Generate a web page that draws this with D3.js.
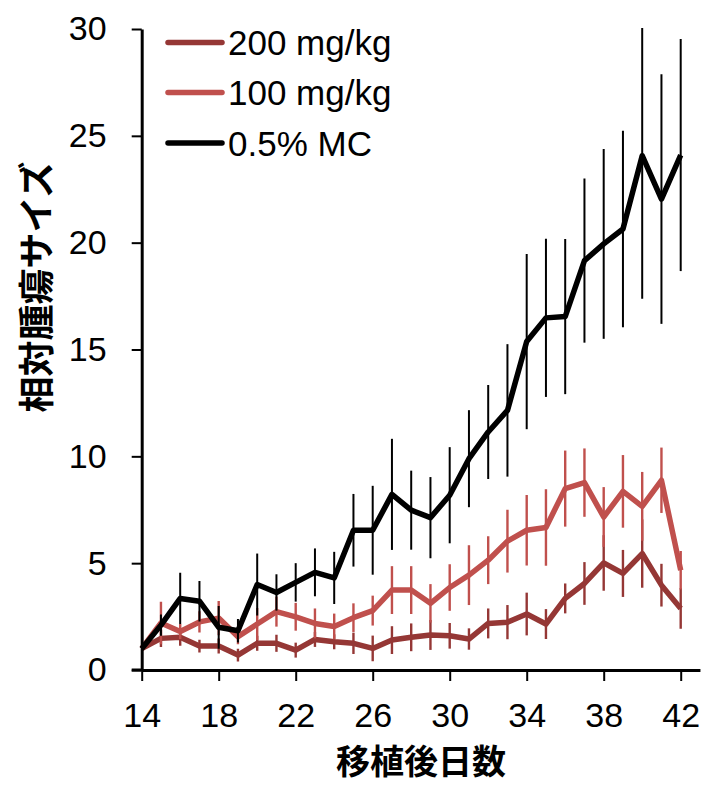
<!DOCTYPE html>
<html>
<head>
<meta charset="utf-8">
<script src="https://cdn.jsdelivr.net/npm/d3@7"></script>
<style>
  html, body { margin: 0; padding: 0; background: #fff; }
  svg { display: block; }
</style>
</head>
<body>
<svg id="chart" width="704" height="785"></svg>
<script>
// Days after transplantation
const days = [14,15,16,17,18,19,20,21,22,23,24,25,26,27,28,29,30,31,32,33,34,35,36,37,38,39,40,41,42];

// Relative tumour size (mean) and error for each group
const mg200 = [1.0,1.48,1.53,1.12,1.12,0.7,1.25,1.25,0.93,1.43,1.32,1.25,1.01,1.4,1.53,1.64,1.6,1.45,2.18,2.24,2.62,2.15,3.35,4.05,5.01,4.52,5.45,3.97,2.88];
const mg200Err = [0,0.4,0.4,0.3,0.35,0.3,0.35,0.4,0.35,0.35,0.35,0.5,0.6,0.65,0.65,0.7,0.6,0.5,0.7,0.8,1.0,0.7,0.7,1.0,1.3,1.1,1.6,1.0,0.95];

const mg100 = [1.0,2.2,1.8,2.25,2.43,1.56,2.15,2.73,2.49,2.18,2.04,2.45,2.78,3.74,3.74,3.12,3.86,4.44,5.14,6.03,6.54,6.67,8.49,8.77,7.16,8.36,7.66,8.88,4.67];
const mg100Err = [0,1.0,0.35,0.5,0.8,0.35,0.75,0.7,0.65,0.7,0.6,0.67,0.7,1.12,1.12,0.9,1.09,1.4,1.12,1.47,1.65,1.79,1.78,1.6,1.4,1.7,1.61,1.53,0.9];

const mc = [1.0,2.1,3.35,3.22,2.0,1.84,4.0,3.63,4.1,4.57,4.31,6.54,6.54,8.22,7.48,7.13,8.18,9.89,11.14,12.15,15.37,16.48,16.54,19.16,19.94,20.64,24.07,22.04,24.1];
const mcErr = [0,0.5,1.2,0.95,1.0,0.55,1.45,0.85,0.9,1.12,1.22,1.7,2.08,2.6,1.85,1.9,2.25,2.27,2.2,3.1,4.1,3.7,3.63,3.84,4.44,4.6,6.7,5.84,5.43];

const seriesNames = ["200 mg/kg", "100 mg/kg", "0.5% MC"];
const seriesColors = ["#953735", "#C0504D", "#000000"];

const xTicks = [14,18,22,26,30,34,38,42];
const yTicks = [0,5,10,15,20,25,30];

const xTitle = "移植後日数";
const yTitle = "相対腫瘍サイズ";

const series = [
  { name: seriesNames[0], values: mg200, err: mg200Err, color: seriesColors[0], errWidth: 2.4 },
  { name: seriesNames[1], values: mg100, err: mg100Err, color: seriesColors[1], errWidth: 2.4 },
  { name: seriesNames[2], values: mc,    err: mcErr,    color: seriesColors[2], errWidth: 2 }
];

const svg = d3.select("#chart");

const x = d3.scaleLinear().domain([14, 43]).range([141.7, 699.95]);
const y = d3.scaleLinear().domain([0, 30]).range([670, 29]);

const latin = "'Liberation Sans', Arial, sans-serif";
const cjk = "'Noto Sans CJK JP', sans-serif";

// clip region for the plot area
svg.append("defs").append("clipPath").attr("id", "plot-clip")
  .append("rect")
  .attr("x", x(14) - 10).attr("y", y(30) - 1)
  .attr("width", x(43) - x(14) + 20).attr("height", y(0) - y(30) + 1);

const plot = svg.append("g").attr("clip-path", "url(#plot-clip)");

const line = d3.line()
  .x((d, i) => x(days[i]))
  .y(d => y(d));

series.forEach(s => {
  // error bars
  plot.append("g")
    .selectAll("line")
    .data(s.values.map((v, i) => ({ d: days[i], v, e: s.err[i] })).filter(p => p.e > 0))
    .join("line")
    .attr("x1", p => x(p.d)).attr("x2", p => x(p.d))
    .attr("y1", p => y(p.v - p.e)).attr("y2", p => y(p.v + p.e))
    .attr("stroke", s.color)
    .attr("stroke-width", s.errWidth);

  // mean line
  plot.append("path")
    .datum(s.values)
    .attr("d", line)
    .attr("fill", "none")
    .attr("stroke", s.color)
    .attr("stroke-width", 5.5)
    .attr("stroke-linejoin", "round")
    .attr("stroke-linecap", "butt");
});

// x axis
const xAxis = svg.append("g")
  .attr("transform", `translate(0,${y(0)})`)
  .call(d3.axisBottom(x).tickValues(xTicks).tickFormat(d3.format("d"))
    .tickSize(11).tickSizeOuter(0).tickPadding(22));

// y axis
const yAxis = svg.append("g")
  .attr("transform", `translate(${x(14)},0)`)
  .call(d3.axisLeft(y).tickValues(yTicks).tickFormat(d3.format("d"))
    .tickSize(10).tickSizeOuter(0).tickPadding(25));

[xAxis, yAxis].forEach(g => {
  g.select(".domain").attr("stroke", "#000").attr("stroke-width", 3);
  g.selectAll(".tick line").attr("stroke", "#000").attr("stroke-width", 2);
  g.selectAll(".tick text")
    .attr("fill", "#000")
    .style("font-family", latin)
    .style("font-size", "34px");
});

// extend the x axis line to the left so it meets the y axis tick
svg.append("line")
  .attr("x1", x(14) - 10).attr("x2", x(14))
  .attr("y1", y(0)).attr("y2", y(0))
  .attr("stroke", "#000").attr("stroke-width", 3);

// axis titles
svg.append("text")
  .attr("x", 421).attr("y", 774)
  .attr("text-anchor", "middle")
  .style("font-family", cjk)
  .style("font-weight", "bold")
  .style("font-size", "34px")
  .text(xTitle);

svg.append("text")
  .attr("transform", "translate(34,287) rotate(-90)")
  .attr("text-anchor", "middle")
  .attr("dominant-baseline", "central")
  .style("font-family", cjk)
  .style("font-weight", "bold")
  .style("font-size", "36px")
  .text(yTitle);

// legend
const legendY = [42.5, 92.5, 143];
const legend = svg.append("g");
series.forEach((s, i) => {
  legend.append("line")
    .attr("x1", 168).attr("x2", 222)
    .attr("y1", legendY[i]).attr("y2", legendY[i])
    .attr("stroke", s.color)
    .attr("stroke-width", 5.5)
    .attr("stroke-linecap", "round");
  legend.append("text")
    .attr("x", 228).attr("y", legendY[i] + 12.5)
    .style("font-family", latin)
    .style("font-size", "35px")
    .attr("fill", "#000")
    .text(s.name);
});
</script>
</body>
</html>
